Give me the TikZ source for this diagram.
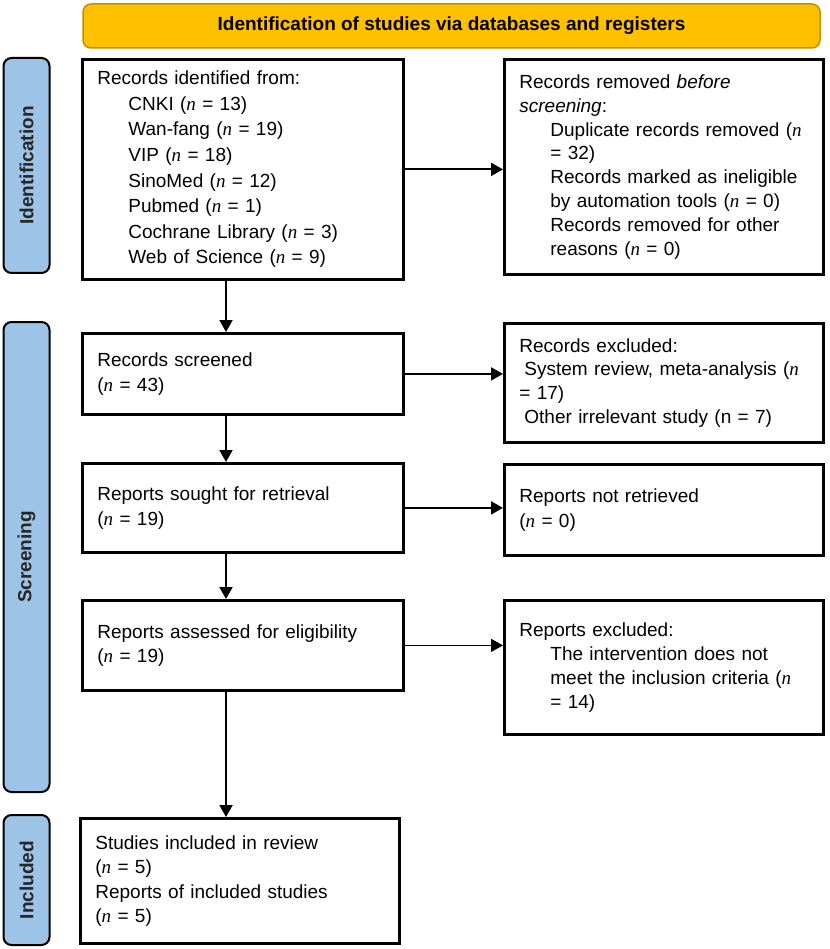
\documentclass[tikz,border=0pt]{standalone}
\usepackage{fontspec}
\setmainfont{Liberation Sans}
\newfontfamily\nserif{Liberation Serif}
\newcommand{\nn}{{\nserif\itshape n}}
\newcommand{\ind}{\hspace*{31pt}}
\usetikzlibrary{arrows.meta}
\definecolor{hdrfill}{HTML}{FFC000}
\definecolor{hdrline}{HTML}{BF9000}
\definecolor{barfill}{HTML}{9DC3E6}
\begin{document}
\begin{tikzpicture}[x=1pt,y=-1pt,
  font=\fontsize{19}{24.5}\selectfont,
  box/.style={draw=black, line width=2.8pt, fill=white, anchor=north west,
    align=left, inner xsep=15pt, inner ysep=0pt, text width=291pt},
  rbox/.style={box, text width=289pt},
  tight/.style={font=\fontsize{19}{23.8}\selectfont},
  loose/.style={font=\fontsize{19}{25.6}\selectfont},
  sidebar/.style={draw=black, line width=2pt, fill=barfill, rounded corners=8pt,
    rotate=90, minimum height=46pt, inner sep=0pt, font=\fontsize{19}{22}\selectfont\bfseries, text=black!85},
  header/.style={draw=hdrline, line width=1.5pt, fill=hdrfill, rounded corners=8pt,
    minimum width=737pt, minimum height=44pt, font=\fontsize{19}{22}\selectfont\bfseries},
  arr/.style={line width=2pt, -{Triangle[length=12pt,width=13pt]}},
  thinarr/.style={line width=1.3pt, -{Triangle[length=12pt,width=13pt]}}
]
\useasboundingbox (0,0) rectangle (829,949);

\node[header] (hdr) at (451.5,26) {Identification of studies via databases and registers};

\node[sidebar, minimum width=215pt] (idbar) at (26.5,165.5) {Identification};
\node[sidebar, minimum width=470pt] (scbar) at (26.5,557) {Screening};
\node[sidebar, minimum width=130pt] (inbar) at (26.5,880) {Included};

\node[box, loose, minimum height=220pt] (b1) at (81,58) {Records identified from:\\
\ind CNKI (\nn{} = 13)\\
\ind Wan-fang (\nn{} = 19)\\
\ind VIP (\nn{} = 18)\\
\ind SinoMed (\nn{} = 12)\\
\ind Pubmed (\nn{} = 1)\\
\ind Cochrane Library (\nn{} = 3)\\
\ind Web of Science (\nn{} = 9)};

\node[rbox, tight, minimum height=215pt] (r1) at (503,58) {Records removed \textit{before}\\
\textit{screening}:\\
\ind Duplicate records removed (\nn\\
\ind = 32)\\
\ind Records marked as ineligible\\
\ind by automation tools (\nn{} = 0)\\
\ind Records removed for other\\
\ind reasons (\nn{} = 0)};

\node[box, minimum height=81pt] (b2) at (81,332) {Records screened\\
(\nn{} = 43)};

\node[rbox, tight, minimum height=119pt] (r2) at (503,322) {Records excluded:\\
\hspace*{5pt}System review, meta-analysis (\nn\\
= 17)\\
\hspace*{5pt}Other irrelevant study (n = 7)};

\node[box, minimum height=89pt] (b3) at (81,462) {Reports sought for retrieval\\
(\nn{} = 19)};

\node[rbox, minimum height=91pt] (r3) at (503,463) {Reports not retrieved\\
(\nn{} = 0)};

\node[box, minimum height=90pt] (b4) at (81,599) {Reports assessed for eligibility\\
(\nn{} = 19)};

\node[rbox, tight, minimum height=134pt] (r4) at (503,599) {Reports excluded:\\
\ind The intervention does not\\
\ind meet the inclusion criteria (\nn\\
\ind = 14)};

\node[box, text width=289pt, minimum height=125pt] (b5) at (79,817) {Studies included in review\\
(\nn{} = 5)\\
Reports of included studies\\
(\nn{} = 5)};

\coordinate (col) at (226,0);

\draw[arr] (b1.south -| col) -- (b2.north -| col);
\draw[arr] (b2.south -| col) -- (b3.north -| col);
\draw[arr] (b3.south -| col) -- (b4.north -| col);
\draw[arr] (b4.south -| col) -- (b5.north -| col);

\draw[arr] (b1.east) -- (b1.east -| r1.west);
\draw[arr] (b2.east) -- (b2.east -| r2.west);
\draw[arr] (b3.east) -- (b3.east -| r3.west);
\draw[thinarr] (b4.east) -- (b4.east -| r4.west);
\end{tikzpicture}
\end{document}
